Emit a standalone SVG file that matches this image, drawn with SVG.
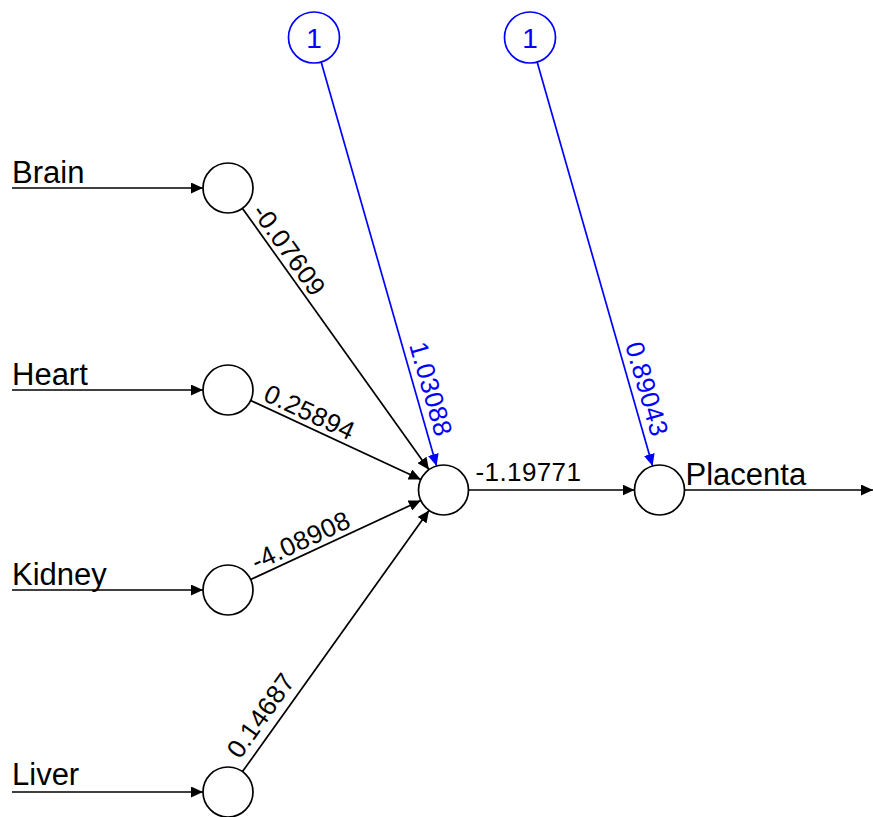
<svg xmlns="http://www.w3.org/2000/svg" width="873" height="817" viewBox="0 0 873 817">
  <style>
    .node { fill: #ffffff; stroke: #000000; stroke-width: 1.7; }
    .bias { fill: #ffffff; stroke: #0000ff; stroke-width: 1.7; }
    .edge { stroke: #000000; stroke-width: 1.7; fill: none; marker-end: url(#arrow); }
    .bedge { stroke: #0000ff; stroke-width: 1.7; fill: none; marker-end: url(#arrowBlue); }
    .lbl { font-family: "Liberation Sans", Arial, sans-serif; font-size: 31px; fill: #000000; }
    .w { font-family: "Liberation Sans", Arial, sans-serif; font-size: 26px; fill: #000000; letter-spacing: 0.4px; }
    .bw { font-family: "Liberation Sans", Arial, sans-serif; font-size: 26px; fill: #0000ff; letter-spacing: 0.4px; }
    .one { font-family: "Liberation Sans", Arial, sans-serif; font-size: 28px; fill: #0000ff; text-anchor: middle; }
  </style>
  <defs>
    <marker id="arrow" markerUnits="userSpaceOnUse" markerWidth="12" markerHeight="11" refX="12" refY="5.5" orient="auto">
      <path d="M0,0 L12,5.5 L0,11 z" fill="#000000"/>
    </marker>
    <marker id="arrowBlue" markerUnits="userSpaceOnUse" markerWidth="12" markerHeight="11" refX="12" refY="5.5" orient="auto">
      <path d="M0,0 L12,5.5 L0,11 z" fill="#0000ff"/>
    </marker>
  </defs>
  <rect width="873" height="817" fill="#ffffff"/>

  <!-- connectors and their weights -->
  <g id="connectors">
    <line class="edge" x1="12" y1="188" x2="203" y2="188"/>
    <line class="edge" x1="12" y1="390" x2="203" y2="390"/>
    <line class="edge" x1="12" y1="590" x2="203" y2="590"/>
    <line class="edge" x1="12" y1="792" x2="203" y2="792"/>

    <line class="edge" x1="242.5" y1="208.4" x2="429" y2="469.7"/>
    <line class="edge" x1="250.7" y1="400.5" x2="420.8" y2="479.5"/>
    <line class="edge" x1="250.7" y1="579.5" x2="420.8" y2="500.5"/>
    <line class="edge" x1="242.5" y1="771.6" x2="429" y2="510.4"/>

    <line class="bedge" x1="321" y1="61.5" x2="436.6" y2="466"/>
    <line class="bedge" x1="537" y1="61.5" x2="652.6" y2="466"/>

    <line class="edge" x1="468.5" y1="490" x2="634.5" y2="490"/>
    <line class="edge" x1="684.5" y1="490" x2="873" y2="490"/>

    <text class="w" transform="translate(251,212) rotate(54.5)">-0.07609</text>
    <text class="w" transform="translate(262,400) rotate(24.9)">0.25894</text>
    <text class="w" transform="translate(256.5,571) rotate(-24.9)">-4.08908</text>
    <text class="w" transform="translate(240,760) rotate(-54.6)">0.14687</text>
    <text class="w" x="475.5" y="481">-1.19771</text>
    <text class="bw" transform="translate(409,345) rotate(74)">1.03088</text>
    <text class="bw" transform="translate(625,345) rotate(74)">0.89043</text>
  </g>

  <!-- input layer -->
  <g id="in-brain">
    <circle class="node" cx="228" cy="188" r="25"/>
    <text class="lbl" x="12" y="183">Brain</text>
  </g>
  <g id="in-heart">
    <circle class="node" cx="228" cy="390" r="25"/>
    <text class="lbl" x="12" y="384.5">Heart</text>
  </g>
  <g id="in-kidney">
    <circle class="node" cx="228" cy="590" r="25"/>
    <text class="lbl" x="12" y="584.5">Kidney</text>
  </g>
  <g id="in-liver">
    <circle class="node" cx="228" cy="792" r="25"/>
    <text class="lbl" x="12" y="785">Liver</text>
  </g>

  <!-- bias units -->
  <g id="bias-hidden">
    <circle class="bias" cx="314" cy="37.5" r="25.5"/>
    <text class="one" x="314" y="48">1</text>
  </g>
  <g id="bias-output">
    <circle class="bias" cx="530" cy="37.5" r="25.5"/>
    <text class="one" x="530" y="48">1</text>
  </g>

  <!-- hidden and output units -->
  <g id="hidden">
    <circle class="node" cx="443.5" cy="490" r="25"/>
  </g>
  <g id="out-placenta">
    <circle class="node" cx="659.5" cy="490" r="25"/>
    <text class="lbl" x="685.5" y="484.5">Placenta</text>
  </g>
</svg>
